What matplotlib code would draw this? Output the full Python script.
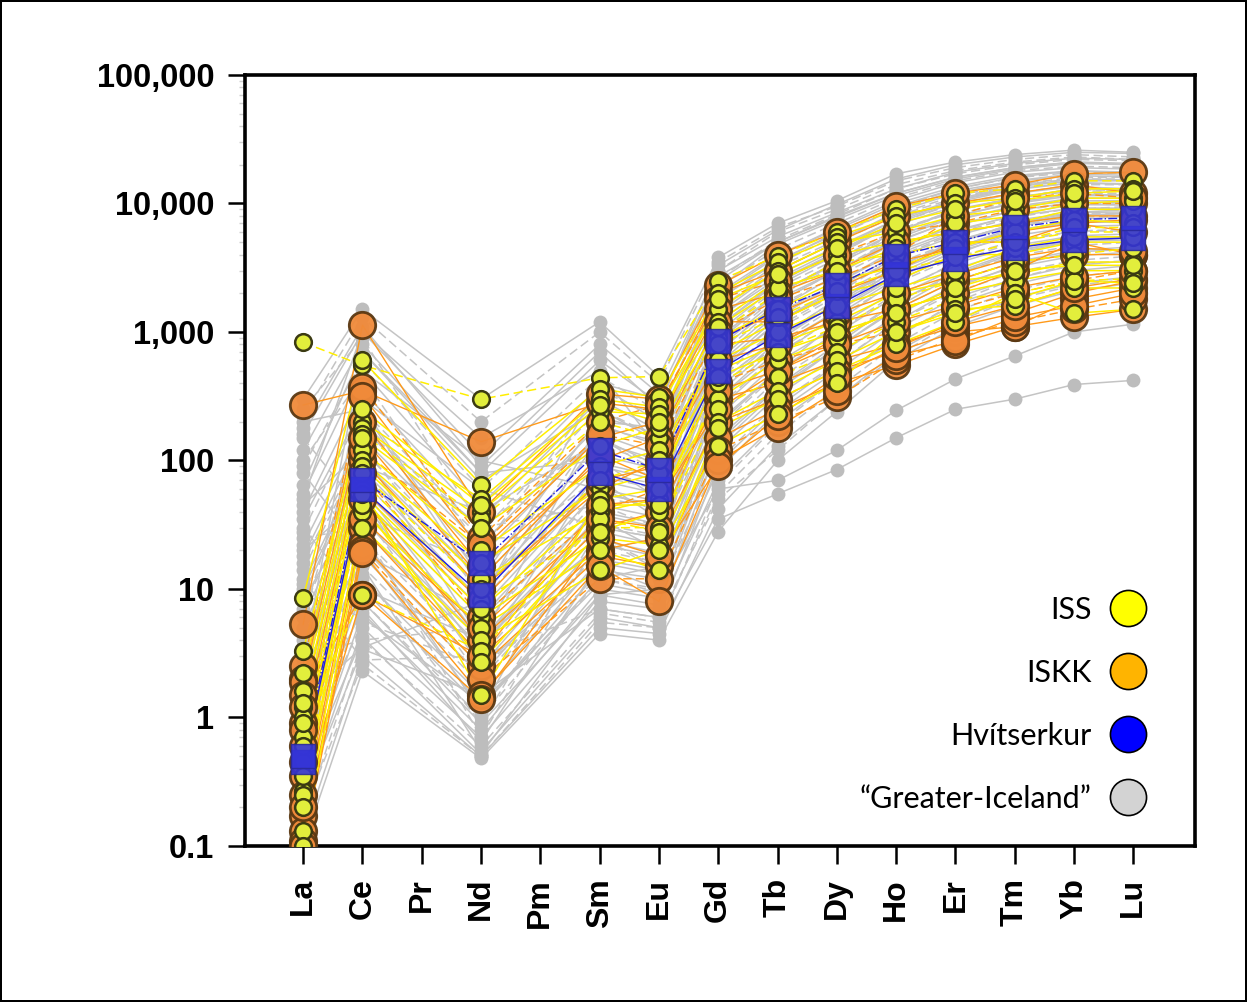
import numpy as np
import matplotlib
matplotlib.use("Agg")
import matplotlib.pyplot as plt
from matplotlib.lines import Line2D

# REE normalised concentrations
elements = ['La', 'Ce', 'Pr', 'Nd', 'Pm', 'Sm', 'Eu', 'Gd', 'Tb', 'Dy', 'Ho', 'Er', 'Tm', 'Yb', 'Lu']
measured = ['La', 'Ce', 'Nd', 'Sm', 'Eu', 'Gd', 'Tb', 'Dy', 'Ho', 'Er', 'Tm', 'Yb', 'Lu']
yticks = [0.1, 1, 10, 100, 1000, 10000, 100000]
yticklabels = ['0.1', '1', '10', '100', '1,000', '10,000', '100,000']

# "Greater-Iceland" profiles
greater_iceland = [
    [300, 1500, 300, 1200, 450, 3800, 7000, 10500, 17000, 21000, 24000, 26000, 25000],
    [220, 1300, 200, 1000, 400, 3500, 6500, 9500, 15000, 19000, 22000, 24000, 23000],
    [160, 1000, 110, 800, 330, 3000, 5500, 8500, 13000, 17500, 20500, 22500, 22000],
    [120, 800, 80, 600, 280, 2700, 5000, 7800, 12000, 16000, 19000, 21000, 20500],
    [90, 600, 60, 450, 240, 2300, 4400, 7000, 11000, 15000, 18000, 19500, 19000],
    [55, 500, 45, 380, 200, 2000, 4000, 6300, 10000, 13500, 16500, 18000, 17500],
    [40, 350, 35, 300, 170, 1800, 3600, 5800, 9000, 12500, 15000, 17000, 16500],
    [28, 250, 28, 250, 150, 1500, 3200, 5200, 8200, 11500, 14000, 15500, 15500],
    [22, 180, 22, 190, 130, 1300, 2800, 4600, 7500, 10500, 13000, 14500, 14000],
    [18, 150, 18, 160, 110, 1100, 2500, 4200, 6800, 9500, 12000, 13500, 13000],
    [14, 120, 14, 130, 95, 950, 2200, 3700, 6200, 8800, 11000, 12500, 12500],
    [11, 100, 12, 110, 85, 850, 2000, 3400, 5600, 8000, 10000, 11500, 11500],
    [9, 85, 10, 95, 75, 750, 1800, 3000, 5100, 7400, 9400, 10500, 10500],
    [7, 70, 8, 80, 65, 650, 1600, 2700, 4600, 6800, 8800, 10000, 9800],
    [6, 60, 7, 70, 55, 560, 1400, 2400, 4200, 6200, 8000, 9200, 9200],
    [5, 50, 6, 60, 48, 480, 1200, 2100, 3800, 5600, 7400, 8500, 8600],
    [4, 42, 5, 52, 42, 420, 1050, 1900, 3400, 5100, 6800, 7800, 8000],
    [3.2, 35, 4, 45, 36, 360, 900, 1650, 3000, 4600, 6200, 7200, 7400],
    [2.6, 30, 3.5, 38, 30, 300, 780, 1450, 2700, 4200, 5600, 6600, 6800],
    [2.0, 25, 3, 32, 26, 260, 680, 1300, 2400, 3800, 5100, 6100, 6300],
    [1.6, 21, 2.5, 28, 22, 220, 580, 1100, 2100, 3400, 4700, 5600, 5800],
    [1.2, 18, 2.1, 24, 19, 190, 500, 980, 1900, 3100, 4300, 5100, 5400],
    [0.9, 15, 1.8, 20, 16, 160, 430, 850, 1700, 2800, 3900, 4700, 5000],
    [0.7, 12, 1.5, 17, 14, 140, 370, 750, 1500, 2500, 3500, 4300, 4600],
    [0.5, 10, 1.2, 14, 12, 120, 320, 650, 1350, 2300, 3200, 3900, 4200],
    [0.4, 8, 1.0, 12, 10, 100, 280, 570, 1200, 2050, 2900, 3600, 3900],
    [0.3, 6.5, 0.8, 10, 8.5, 85, 240, 500, 1050, 1850, 2600, 3300, 3600],
    [0.22, 5, 0.7, 8, 7, 70, 200, 430, 920, 1650, 2350, 3000, 3300],
    [0.16, 4, 0.6, 6.5, 5.5, 55, 160, 360, 800, 1450, 2100, 2700, 3000],
    [0.12, 3, 0.5, 5, 4.5, 42, 130, 300, 700, 1250, 1850, 2400, 2700],
    [0.1, 2.3, 0.48, 4.5, 4, 28, 100, 240, 600, 1100, 1600, 2100, 2400],
    [150, 40, 2, 20, 25, 400, 900, 1800, 3000, 5000, 7000, 9000, 9500],
    [80, 20, 1.2, 12, 15, 300, 700, 1500, 2800, 4500, 6500, 8000, 8500],
    [30, 8, 0.9, 9, 10, 200, 500, 1200, 2500, 4000, 6000, 7500, 8000],
    [3, 4, 5, 60, 40, 1500, 3000, 5000, 8000, 11000, 14000, 16000, 16000],
    [1.5, 500, 100, 60, 40, 900, 2000, 3500, 6000, 9000, 11000, 13000, 13000],
    [0.8, 300, 60, 30, 25, 600, 1500, 2800, 5000, 7500, 9500, 11000, 11000],
    [12, 2.8, 3, 7, 6, 50, 120, 300, 650, 1200, 1800, 2300, 2600],
    [5, 15, 0.55, 6, 5, 35, 55, 85, 150, 250, 300, 390, 420],
    [20, 50, 2.5, 15, 10, 60, 70, 120, 245, 430, 650, 1000, 1150],
    [250, 900, 30, 150, 80, 3000, 6000, 9000, 14000, 18000, 21000, 23000, 22000],
    [2, 80, 8, 400, 300, 2500, 5000, 8000, 12000, 16000, 19000, 21000, 20000],
    [0.3, 60, 4, 200, 180, 1800, 3500, 6000, 9500, 13000, 16000, 18000, 17000],
    [6, 200, 25, 25, 15, 1200, 2500, 4000, 7000, 10000, 12000, 14000, 14000],
    [50, 1000, 150, 500, 120, 400, 900, 1800, 3200, 5000, 7000, 8500, 9000],
    [180, 1100, 90, 700, 260, 3300, 6200, 9800, 15500, 20000, 23000, 25000, 24500],
    [100, 450, 20, 350, 220, 2600, 5200, 8200, 13000, 17000, 20000, 22000, 21500],
    [65, 700, 70, 250, 140, 2200, 4800, 7500, 11500, 15500, 18500, 20500, 20000],
    [35, 260, 12, 220, 160, 1900, 3900, 6500, 10500, 14500, 17500, 19000, 18500],
    [16, 130, 9, 180, 140, 1600, 3400, 5600, 9200, 13000, 15800, 17500, 17000],
    [10, 90, 40, 140, 100, 1400, 3000, 5000, 8600, 12000, 14800, 16500, 16000],
    [8, 55, 3, 90, 70, 1000, 2300, 4000, 7000, 10200, 12800, 14500, 14200],
    [4.5, 38, 15, 75, 60, 800, 1900, 3300, 6000, 8700, 11200, 12800, 12600],
    [3.6, 26, 1.1, 55, 45, 700, 1700, 3000, 5300, 7900, 10200, 11800, 11600],
    [2.3, 19, 6, 40, 32, 520, 1300, 2400, 4400, 6700, 8800, 10200, 10100],
    [1.8, 13, 0.9, 30, 25, 420, 1100, 2000, 3800, 5900, 7800, 9200, 9000],
    [1.1, 10, 4, 22, 18, 330, 850, 1700, 3200, 5100, 6900, 8200, 8100],
    [0.75, 7, 0.65, 16, 13, 250, 650, 1350, 2600, 4300, 6000, 7200, 7100],
    [0.55, 5.5, 2.5, 12, 9.5, 180, 480, 1000, 2000, 3500, 5000, 6100, 6100],
    [0.35, 4.2, 0.52, 9, 7.5, 130, 350, 750, 1550, 2800, 4100, 5100, 5200],
    [0.25, 3.4, 1.5, 7, 6, 95, 260, 560, 1200, 2200, 3300, 4200, 4400],
    [0.18, 2.6, 0.5, 5.5, 5, 65, 190, 420, 900, 1700, 2600, 3400, 3600],
    [45, 120, 4, 35, 20, 500, 1200, 2200, 4000, 6000, 8200, 9800, 9700],
    [200, 250, 10, 70, 35, 900, 2000, 3500, 6000, 8800, 11000, 13000, 12800],
    [25, 30, 0.7, 25, 14, 350, 800, 1600, 3000, 4900, 6800, 8300, 8300],
    [9, 6, 1.3, 11, 9, 150, 380, 800, 1700, 2900, 4200, 5300, 5500],
    [2.8, 700, 80, 100, 50, 1100, 2400, 4200, 7200, 10500, 13500, 15000, 15000],
    [0.6, 180, 30, 45, 30, 700, 1700, 3000, 5500, 8200, 10500, 12000, 12000],
    [1.4, 3.5, 8, 150, 90, 1300, 2600, 4400, 7500, 10800, 13600, 15500, 15200],
]

# ISKK profiles
iskk = [
    [270, 350, 140, 280, 250, 2000, 3000, 5000, 8000, 10000, 12000, 14000, 12000],
    [5.3, 1130, 40, 330, 300, 2300, 4000, 6000, 9500, 12000, 14000, 17000, 17500],
    [2.5, 370, 25, 200, 270, 1800, 2500, 4000, 6000, 7000, 9000, 10000, 10000],
    [2.0, 320, 20, 150, 200, 1500, 2000, 3000, 5000, 6000, 7000, 8000, 8000],
    [1.9, 200, 15, 100, 150, 1200, 1200, 2000, 3000, 5000, 5000, 7000, 6000],
    [0.9, 100, 10, 60, 100, 800, 900, 1200, 1500, 2000, 3000, 5000, 4000],
    [0.8, 80, 6, 40, 60, 400, 600, 800, 1000, 1500, 2000, 2500, 3000],
    [0.35, 50, 4, 30, 40, 300, 400, 600, 800, 1100, 1400, 2000, 2500],
    [0.17, 30, 3, 20, 25, 200, 300, 500, 700, 1000, 1100, 1800, 2200],
    [0.13, 22, 2.5, 18, 15, 150, 250, 400, 550, 800, 1100, 1300, 1500],
    [0.11, 20, 2, 12, 12, 120, 200, 310, 600, 900, 1200, 1500, 1800],
    [0.1, 19, 1.5, 15, 8, 100, 180, 350, 650, 850, 1300, 1600, 2000],
    [0.25, 9, 1.4, 25, 18, 90, 220, 450, 750, 1200, 1600, 2200, 2600],
    [1.5, 9, 3, 45, 50, 250, 500, 900, 1500, 2500, 3500, 4000, 4000],
    [0.6, 120, 22, 160, 130, 1000, 1800, 2600, 4000, 8000, 11000, 12000, 11000],
    [0.45, 60, 8, 70, 90, 600, 800, 1400, 2000, 2800, 3800, 4500, 4300],
    [1.2, 150, 12, 110, 70, 900, 1400, 2200, 3500, 4500, 6000, 7000, 7500],
    [0.2, 35, 5, 35, 30, 350, 500, 800, 1200, 1600, 2200, 2700, 3000],
]

# ISS profiles
iss = [
    [830, 550, 300, 440, 450, 2500, 3900, 6000, 9000, 12000, 13000, 15000, 15000],
    [8.5, 600, 65, 360, 310, 2000, 3500, 5500, 8000, 10000, 11000, 13000, 13000],
    [3.3, 200, 50, 300, 260, 1500, 3000, 5000, 6000, 8000, 9000, 11000, 11000],
    [1.6, 180, 40, 240, 230, 1200, 2500, 4000, 5000, 6000, 7000, 9000, 9000],
    [1.2, 160, 35, 200, 150, 1000, 2000, 3500, 4000, 5000, 5000, 6000, 6000],
    [1.0, 120, 20, 90, 120, 700, 1200, 2000, 2500, 4000, 4000, 5000, 5000],
    [0.7, 100, 16, 60, 80, 500, 800, 1200, 2000, 2500, 2800, 3500, 3500],
    [0.5, 90, 12, 40, 50, 300, 600, 900, 1500, 2000, 2500, 3000, 3000],
    [0.27, 70, 8, 30, 30, 250, 450, 700, 1200, 1800, 2000, 2500, 2600],
    [0.25, 50, 6, 25, 22, 200, 350, 600, 1000, 1500, 1600, 2200, 2200],
    [0.13, 40, 5, 20, 14, 180, 300, 500, 800, 1200, 2000, 1400, 1500],
    [0.1, 30, 4, 14, 20, 130, 230, 400, 1000, 1400, 1800, 2500, 2400],
    [0.9, 9, 3.3, 35, 28, 400, 700, 1100, 1800, 2500, 3500, 4000, 4500],
    [0.45, 45, 2.7, 28, 40, 600, 1000, 1600, 2200, 3000, 4500, 5500, 5500],
    [0.35, 60, 1.5, 50, 60, 900, 1500, 2500, 3200, 4500, 6000, 7500, 7000],
    [1.3, 150, 30, 130, 180, 1100, 2200, 3000, 4500, 7000, 8000, 10000, 10500],
    [0.6, 80, 10, 70, 100, 800, 1300, 2100, 3000, 3800, 5000, 6500, 6500],
    [0.2, 55, 7, 45, 45, 450, 700, 1000, 1400, 2200, 3000, 3300, 3300],
    [2.2, 250, 45, 270, 200, 1800, 2800, 4500, 7000, 9000, 10500, 12000, 12500],
]

# Hvitserkur profiles
hvitserkur = [
    [0.45, 60, 9, 80, 60, 500, 950, 1600, 2800, 3700, 4500, 5200, 5400],
    [0.5, 70, 16, 120, 85, 850, 1500, 2300, 3900, 5000, 6500, 7500, 7700],
]

legend_labels = ['ISS', 'ISKK', 'Hvítserkur', '\u201cGreater-Iceland\u201d']
legend_colors = ['#ffff00', '#ffb400', '#0000ff', '#d3d3d3']

x = np.array([elements.index(e) for e in measured])

fig = plt.figure(figsize=(12.47, 10.02), dpi=100)
fig.patch.set_edgecolor('black')
fig.patch.set_linewidth(1.5)
ax = fig.add_axes([0.1965, 0.1557, 0.7618, 0.7695])

for i, prof in enumerate(greater_iceland):
    ls = (0, (6, 3)) if i % 3 == 1 else '-'
    ax.plot(x, prof, color='#c4c4c4', lw=1.1, ls=ls, zorder=1)
for prof in greater_iceland:
    ax.plot(x, prof, ls='none', marker='o', ms=10, mfc='#bdbdbd', mec='none', zorder=2)

for i, prof in enumerate(iskk):
    ls = (0, (6, 3)) if i % 4 == 2 else '-'
    ax.plot(x, prof, color='#ff9a1a', lw=1.0, ls=ls, zorder=3)
for i, prof in enumerate(iss):
    ls = (0, (6, 3)) if i % 4 == 0 else '-'
    ax.plot(x, prof, color='#ffee00', lw=1.1, ls=ls, zorder=3)

ax.plot(x, hvitserkur[0], color='#2020e0', lw=1.0, zorder=4)
ax.plot(x, hvitserkur[1], color='#2020e0', lw=1.0, ls='-.', zorder=4)

for prof in iskk:
    ax.plot(x, prof, ls='none', marker='o', ms=19, mfc='#f08a3a', mec='#5a3812', mew=2, alpha=0.95, zorder=5)
for prof in iss:
    ax.plot(x, prof, ls='none', marker='o', ms=12, mfc='#e2ee3c', mec='#3b3a12', mew=1.8, zorder=6)
for prof in hvitserkur:
    ax.plot(x, prof, ls='none', marker='s', ms=17, mfc='#3434d8', mec='#2a2a9a', mew=1, alpha=0.9, zorder=7)

ax.set_yscale('log')
ax.set_ylim(0.1, 100000)
ax.set_xlim(-0.98, 15.04)

ax.set_yticks(yticks)
ax.set_yticklabels(yticklabels)
ax.set_xticks(range(len(elements)))
ax.set_xticklabels(elements, rotation=90)
ax.yaxis.set_minor_locator(matplotlib.ticker.LogLocator(base=10, subs=np.arange(2, 10)))
ax.yaxis.set_minor_formatter(matplotlib.ticker.NullFormatter())

for lab in ax.get_yticklabels():
    lab.set_fontfamily('Liberation Sans')
    lab.set_fontweight('bold')
    lab.set_fontsize(23.5)
for lab in ax.get_xticklabels():
    lab.set_fontfamily('Liberation Sans')
    lab.set_fontweight('bold')
    lab.set_fontsize(23)
ax.tick_params(axis='y', which='major', direction='out', length=12, width=1.8, pad=10, right=False)
ax.tick_params(axis='y', which='minor', direction='out', length=4, width=1, color='#cfcfcf')
ax.tick_params(axis='x', which='major', direction='out', length=13, width=1.8, pad=10, top=False)

for sp in ax.spines.values():
    sp.set_linewidth(2.6)

handles = [Line2D([], [], ls='none', marker='o', ms=26, mfc=c, mec='black', mew=1.2)
           for c in legend_colors]
leg = ax.legend(handles, legend_labels, loc='lower right', bbox_to_anchor=(0.965, 0.023),
                frameon=False, markerfirst=False, handlelength=1.2, handletextpad=0.6,
                labelspacing=1.15, borderpad=0, prop={'family': 'Lato', 'size': 22})
leg.set_zorder(10)

fig.savefig('out.png', dpi=100)
